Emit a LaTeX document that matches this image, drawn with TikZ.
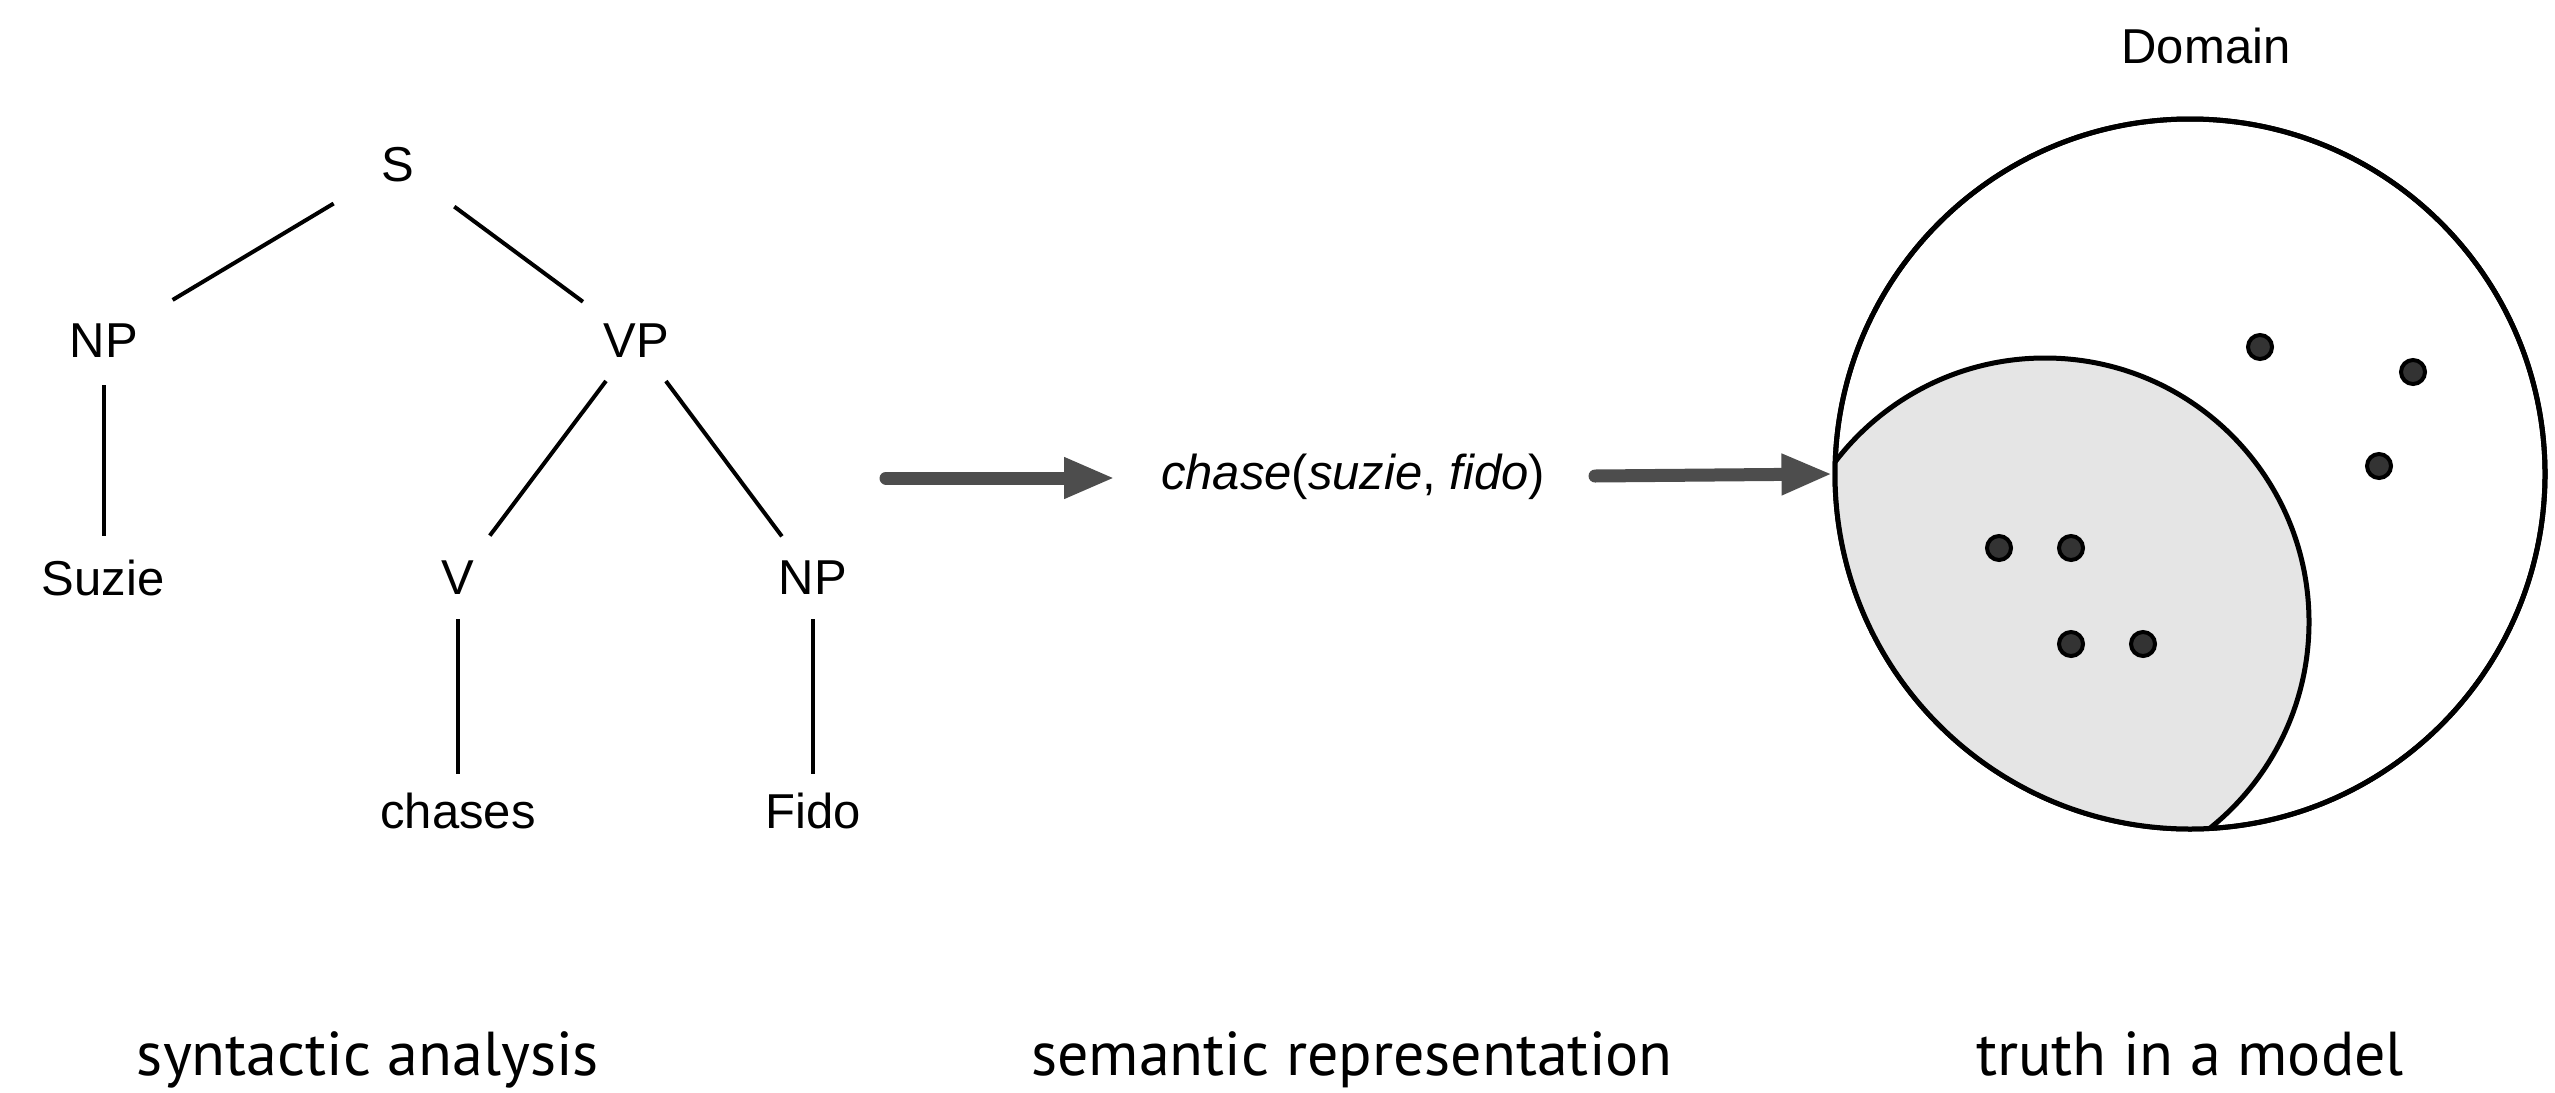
\documentclass[tikz,border=0pt]{standalone}
\usepackage{fontspec}
\setmainfont{Liberation Sans}
\newfontfamily\capfont{PT Sans}
\usetikzlibrary{arrows.meta}
\definecolor{arrowgray}{HTML}{4D4D4D}
\definecolor{shadegray}{HTML}{E5E5E5}
\definecolor{dotgray}{HTML}{333333}
\begin{document}
\begin{tikzpicture}[x=1pt,y=-1pt,
  lab/.style={font=\fontsize{49}{58}\selectfont, inner sep=0pt},
  caption/.style={font=\capfont\fontsize{62}{72}\selectfont, inner sep=0pt, anchor=base},
  treeline/.style={line width=4pt},
  bigarrow/.style={draw=arrowgray, line width=13pt, line cap=round,
    -{Triangle[length=51pt,width=38pt]}, arrowgray},
  dot/.style={circle, fill=dotgray, draw=black, line width=4pt, minimum size=24pt, inner sep=0pt}]
\useasboundingbox (0,0) rectangle (2555,1092);
% tree
\node[lab] (S) at (398,165) {S};
\node[lab] (NP1) at (104,341) {NP};
\node[lab] (VP) at (636,341) {VP};
\node[lab] (Suzie) at (103,578) {Suzie};
\node[lab] (V) at (458,578) {V};
\node[lab] (NP2) at (813,578) {NP};
\node[lab] (chases) at (458,811) {chases};
\node[lab] (Fido) at (813,811) {Fido};
\draw[treeline, shorten <=75pt, shorten >=80pt] (S.center) -- (NP1.center);
\draw[treeline, shorten <=70pt, shorten >=66pt] (S.center) -- (VP.center);
\draw[treeline, shorten <=44pt, shorten >=42pt] (NP1.center) -- (NP1.center |- Suzie.center);
\draw[treeline, shorten <=50pt, shorten >=53pt] (VP.center) -- (V.center);
\draw[treeline, shorten <=50pt, shorten >=52pt] (VP.center) -- (NP2.center);
\draw[treeline, shorten <=41pt, shorten >=37pt] (V.center) -- (chases.center);
\draw[treeline, shorten <=41pt, shorten >=37pt] (NP2.center) -- (Fido.center);
% semantic representation
\node[lab] (chase) at (1353,477) {\textit{chase}(\textit{suzie}, \textit{fido})};
% domain
\node[circle, draw=black, line width=5pt, minimum size=710pt, inner sep=0pt] (domain) at (2190,474) {};
\begin{scope}
  \clip (2190,474) circle[radius=353pt];
  \fill[shadegray] (2045,622) circle[radius=264pt];
  \draw[line width=5pt] (2045,622) circle[radius=264pt];
\end{scope}
\node[circle, draw=black, line width=5pt, minimum size=710pt, inner sep=0pt] at (2190,474) {};
\node[lab] (dlabel) at (2206,46) {Domain};
\node[dot] (p1) at (2260,347) {};
\node[dot] (p2) at (2413,372) {};
\node[dot] (p3) at (2379,466) {};
\node[dot] (p4) at (1999,548) {};
\node[dot] (p5) at (2071,548) {};
\node[dot] (p6) at (2071,644) {};
\node[dot] (p7) at (2143,644) {};
% arrows
\coordinate (a1s) at (886,478);
\coordinate (a1e) at (1115,478);
\coordinate (a2s) at (1595,476);
\draw[bigarrow] (a1s) -- (a1e);
\draw[bigarrow] (a2s) -- (domain.west);
% captions
\node[caption] (c1) at (368,1075) {syntactic analysis};
\node[caption] (c2) at (1352,1075) {semantic representation};
\node[caption] (c3) at (2190,1075) {truth in a model};
\end{tikzpicture}
\end{document}
